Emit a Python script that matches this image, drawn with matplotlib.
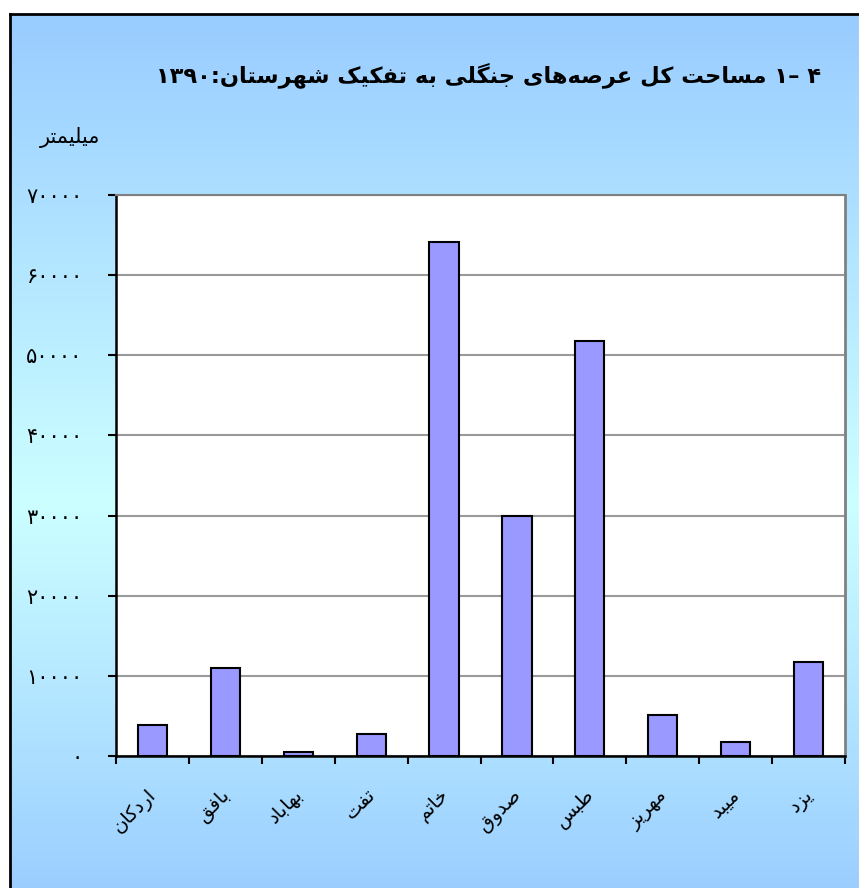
import re
import numpy as np
import matplotlib.pyplot as plt

# ===== Data =====
cities = ['اردکان', 'بافق', 'بهاباد', 'تفت', 'خاتم', 'صدوق', 'طبس', 'مهریز', 'میبد', 'یزد']
areas = [3900, 11000, 500, 2700, 64100, 29900, 51800, 5100, 1750, 11700]
yticks = [0, 10000, 20000, 30000, 40000, 50000, 60000, 70000]
title = '۴ –۱ مساحت کل عرصه‌های جنگلی به تفکیک شهرستان:۱۳۹۰'
ylabel = 'میلیمتر'

# presentation forms: (isolated, final[, initial, medial])
FORMS = {
    'ا': ('\uFE8D', '\uFE8E'), 'د': ('\uFEA9', '\uFEAA'),
    'ر': ('\uFEAD', '\uFEAE'), 'ز': ('\uFEAF', '\uFEB0'),
    'و': ('\uFEED', '\uFEEE'),
    'ب': ('\uFE8F', '\uFE90', '\uFE91', '\uFE92'),
    'ت': ('\uFE95', '\uFE96', '\uFE97', '\uFE98'),
    'ج': ('\uFE9D', '\uFE9E', '\uFE9F', '\uFEA0'),
    'ح': ('\uFEA1', '\uFEA2', '\uFEA3', '\uFEA4'),
    'خ': ('\uFEA5', '\uFEA6', '\uFEA7', '\uFEA8'),
    'س': ('\uFEB1', '\uFEB2', '\uFEB3', '\uFEB4'),
    'ش': ('\uFEB5', '\uFEB6', '\uFEB7', '\uFEB8'),
    'ص': ('\uFEB9', '\uFEBA', '\uFEBB', '\uFEBC'),
    'ط': ('\uFEC1', '\uFEC2', '\uFEC3', '\uFEC4'),
    'ع': ('\uFEC9', '\uFECA', '\uFECB', '\uFECC'),
    'ف': ('\uFED1', '\uFED2', '\uFED3', '\uFED4'),
    'ق': ('\uFED5', '\uFED6', '\uFED7', '\uFED8'),
    'ل': ('\uFEDD', '\uFEDE', '\uFEDF', '\uFEE0'),
    'م': ('\uFEE1', '\uFEE2', '\uFEE3', '\uFEE4'),
    'ن': ('\uFEE5', '\uFEE6', '\uFEE7', '\uFEE8'),
    'ه': ('\uFEE9', '\uFEEA', '\uFEEB', '\uFEEC'),
    'ک': ('\uFB8E', '\uFB8F', '\uFB90', '\uFB91'),
    'گ': ('\uFB92', '\uFB93', '\uFB94', '\uFB95'),
    'ی': ('\uFBFC', '\uFBFD', '\uFBFE', '\uFBFF'),
}


def fa(text):
    '''shape persian letters and put them in visual (left to right) order'''
    out = []
    for i, ch in enumerate(text):
        f = FORMS.get(ch)
        if f is None:
            if ch != '\u200c':
                out.append(ch)
            continue
        prev = text[i - 1] if i > 0 else ''
        nxt = text[i + 1] if i + 1 < len(text) else ''
        jp = len(FORMS.get(prev, ())) == 4
        jn = len(f) == 4 and nxt in FORMS
        if jp and jn:
            out.append(f[3])
        elif jp:
            out.append(f[1])
        elif jn:
            out.append(f[2])
        else:
            out.append(f[0])
    vis = ''.join(reversed(out))
    return re.sub(r'[0-9۰-۹]+', lambda m: m.group(0)[::-1], vis)


def fa_num(n):
    return str(n).translate(str.maketrans('0123456789', '۰۱۲۳۴۵۶۷۸۹'))


plt.rcParams['font.family'] = ['DejaVu Sans']

fig = plt.figure(figsize=(8.59, 8.88), dpi=100)
fig.patch.set_facecolor('white')

# ===== gradient background of the chart frame =====
bg = fig.add_axes([10 / 859, 0, 849 / 859, 874 / 888])
t = np.linspace(0, 1, 300)
top = np.array([0.60, 0.80, 1.00])
mid = np.array([0.80, 1.00, 1.00])
w = np.interp(t, [0, 0.56, 1.0], [0, 1, 0.05])
grad = (top[None, :] * (1 - w[:, None]) + mid[None, :] * w[:, None])[:, None, :]
bg.imshow(grad, aspect='auto', extent=[0, 1, 0, 1], origin='upper')
bg.set_xlim(0, 1)
bg.set_ylim(0, 1)
bg.set_xticks([])
bg.set_yticks([])
for s in ['right', 'bottom']:
    bg.spines[s].set_visible(False)
for s in ['left', 'top']:
    bg.spines[s].set_linewidth(2)
    bg.spines[s].set_color('black')

# ===== bar chart =====
ax = fig.add_axes([116 / 859, 132 / 888, 729 / 859, 561 / 888])
ax.set_facecolor('white')
x = np.arange(len(cities))
ax.bar(x, areas, width=0.4, color='#9999FF', edgecolor='black', linewidth=1.5, zorder=3)

ax.set_xlim(-0.5, len(cities) - 0.5)
ax.set_ylim(0, 70000)
ax.set_yticks(yticks)
ax.set_yticklabels([fa_num(v) for v in yticks], fontsize=15)
ax.yaxis.grid(True, color='#999999', lw=1.5, zorder=0)

# labels sit a little right of the bar centres, as in the original
ax.set_xticks(x + 0.11)
ax.set_xticklabels([fa(c) for c in cities], rotation=45, ha='right', va='top', fontsize=14)
ax.set_xticks(np.arange(-0.5, len(cities)), minor=True)
ax.tick_params(axis='x', which='major', length=0, pad=21)
ax.tick_params(axis='x', which='minor', length=6, width=1.5, color='black')
ax.tick_params(axis='y', length=6, width=1.5, color='black', pad=18)

ax.spines['left'].set_linewidth(1.8)
ax.spines['bottom'].set_linewidth(1.8)
ax.spines['top'].set_color('#808080')
ax.spines['right'].set_color('#808080')
ax.spines['top'].set_linewidth(1.5)
ax.spines['right'].set_linewidth(2)

fig.text(489 / 859, 1 - 75 / 888, fa(title), fontsize=16.2, fontweight='bold',
         ha='center', va='center')
fig.text(70 / 859, 1 - 137 / 888, fa(ylabel), fontsize=15, ha='center', va='center')

fig.savefig('out.png', dpi=100)
